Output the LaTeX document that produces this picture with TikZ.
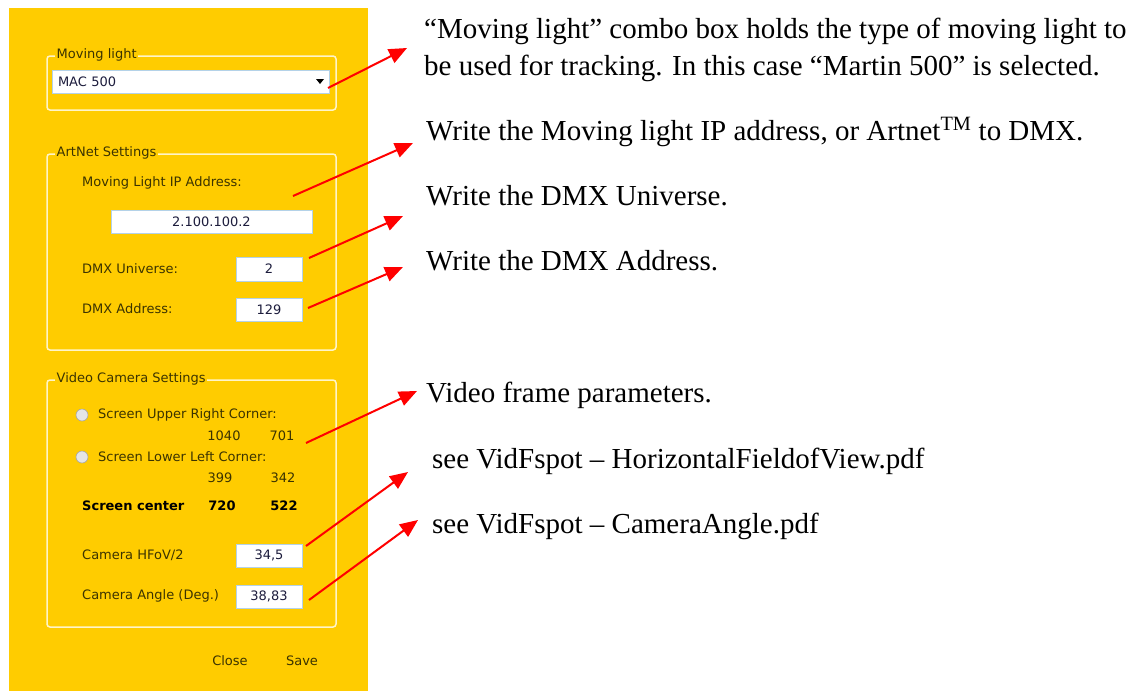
\documentclass[tikz,border=0pt]{standalone}
\usepackage{fontspec}
\setmainfont{Liberation Serif}
\newfontfamily\uifont{DejaVu Sans}
\usetikzlibrary{arrows.meta}
\definecolor{panel}{HTML}{FFCC00}
\definecolor{grp}{HTML}{FFF4C8}
\definecolor{uitext}{HTML}{3B3300}
\definecolor{valtext}{HTML}{1C1C3C}
\definecolor{fieldborder}{HTML}{B4D2E8}
\begin{document}
\begin{tikzpicture}[x=1pt,y=-1pt,
  ui/.style={font=\uifont\fontsize{13}{15}\selectfont, text=uitext, inner sep=0pt},
  lbl/.style={ui, anchor=west},
  boldlbl/.style={lbl, font=\uifont\bfseries\fontsize{13}{15}\selectfont, text=black},
  val/.style={ui, anchor=center},
  grpbox/.style={draw=grp, line width=1.5pt, rounded corners=3pt},
  grplabel/.style={lbl, fill=panel, inner xsep=1.5pt, inner ysep=1pt},
  field/.style={draw=fieldborder, fill=white, line width=0.8pt, ui, text=valtext, anchor=center},
  radio/.style={circle, draw=gray!70, fill=gray!20, line width=0.6pt, minimum size=12pt, inner sep=0pt},
  note/.style={font=\fontsize{29}{37}\selectfont, anchor=base west, inner sep=0pt, align=left},
  callout/.style={draw=red, line width=2pt, -{Triangle[length=18pt,width=15pt]}},
]
\useasboundingbox (0,0) rectangle (1143,691);
\fill[white] (0,0) rectangle (1143,691);
% panel
\fill[panel] (9,8) rectangle (368,691);

% Moving light group
\draw[grpbox] (47,56) rectangle (336,110);
\node[grplabel] (gml) at (55,55) {Moving light};
\node[field, minimum width=277pt, minimum height=23pt, text width=265pt, align=left, inner xsep=4pt] (combo) at (190.5,81.5) {MAC 500};
\fill[black] (316,79) -- (324,79) -- (320,84) -- cycle;

% ArtNet group
\draw[grpbox] (47,154) rectangle (336,350);
\node[grplabel] (gart) at (55,153) {ArtNet Settings};
\node[lbl] (iplbl) at (82,183) {Moving Light IP Address:};
\node[field, minimum width=201pt, minimum height=23pt] (ip) at (211.5,221.5) {2.100.100.2};
\node[lbl] (unilbl) at (82,269) {DMX Universe:};
\node[field, minimum width=66pt, minimum height=24pt] (uni) at (269,269) {2};
\node[lbl] (adrlbl) at (82,309) {DMX Address:};
\node[field, minimum width=66pt, minimum height=23pt] (adr) at (269,309.5) {129};

% Video camera group
\draw[grpbox] (47,380) rectangle (336,627);
\node[grplabel] (gvid) at (55,379) {Video Camera Settings};
\node[radio] (r1) at (82,415) {};
\node[lbl] (urlbl) at (98,415) {Screen Upper Right Corner:};
\node[val] (urx) at (224,436) {1040};
\node[val] (ury) at (282,436) {701};
\node[radio] (r2) at (82,457) {};
\node[lbl] (lllbl) at (98,457) {Screen Lower Left Corner:};
\node[val] (llx) at (220,478) {399};
\node[val] (lly) at (283,478) {342};
\node[boldlbl] (sclbl) at (82,506) {Screen center};
\node[val, font=\uifont\bfseries\fontsize{13}{15}\selectfont, text=black] (scx) at (222,506) {720};
\node[val, font=\uifont\bfseries\fontsize{13}{15}\selectfont, text=black] (scy) at (284,506) {522};
\node[lbl] (hfovlbl) at (82,555) {Camera HFoV/2};
\node[field, minimum width=66pt, minimum height=23pt] (hfov) at (269,555.5) {34,5};
\node[lbl] (anglbl) at (82,596) {Camera Angle (Deg.)};
\node[field, minimum width=66pt, minimum height=23pt] (ang) at (269,596.5) {38,83};
\node[val] (close) at (230,661) {Close};
\node[val] (save) at (302,661) {Save};

% notes
\node[note] (n1) at (424,75) {“Moving light” combo box holds the type of moving light to\\be used for tracking. In this case “Martin 500” is selected.};
\node[note] (n2) at (426,140) {Write the Moving light IP address, or Artnet\textsuperscript{TM} to DMX.};
\node[note] (n3) at (426,205) {Write the DMX Universe.};
\node[note] (n4) at (426,270) {Write the DMX Address.};
\node[note] (n5) at (426,402) {Video frame parameters.};
\node[note] (n6) at (432,468) {see VidFspot – HorizontalFieldofView.pdf};
\node[note] (n7) at (432,533) {see VidFspot – CameraAngle.pdf};

% connector ends
\coordinate (s1) at (328,88);  \coordinate (t1) at (407,48);
\coordinate (s2) at (293,196); \coordinate (t2) at (413,143);
\coordinate (s3) at (309,258); \coordinate (t3) at (403,216);
\coordinate (s4) at (308,308); \coordinate (t4) at (403,267);
\coordinate (s5) at (306,443); \coordinate (t5) at (417,391);
\coordinate (s6) at (306,546); \coordinate (t6) at (408,472);
\coordinate (s7) at (309,600); \coordinate (t7) at (418,520);
\foreach \i in {1,...,7}{\draw[callout] (s\i) -- (t\i);}
\end{tikzpicture}
\end{document}
